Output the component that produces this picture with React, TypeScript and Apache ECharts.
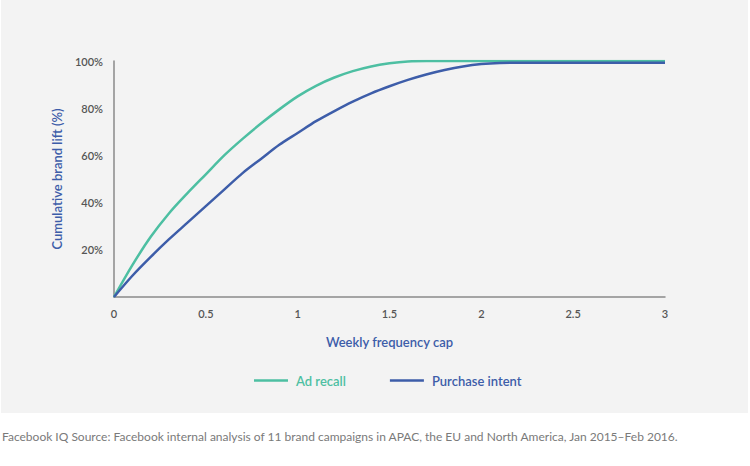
import React, { useEffect, useRef } from "react";
import * as echarts from "echarts";

const xValues = [0, 0.1, 0.2, 0.3, 0.4, 0.5, 0.6, 0.7, 0.8, 0.9, 1, 1.1, 1.2, 1.3, 1.4, 1.5, 1.6, 1.7, 1.8, 1.9, 2, 2.1, 2.2, 2.5, 3];
const adRecall = [0, 13.5, 25.5, 35.5, 44, 52, 60, 67, 73.5, 79.5, 85, 89.5, 93, 95.7, 97.7, 99, 99.8, 100, 100, 100, 100, 100, 100, 100, 100];
const purchaseIntent = [0, 9, 17, 24.5, 31.5, 38.5, 45.5, 52.5, 58.5, 64.5, 69.5, 74.5, 78.8, 82.8, 86.3, 89.3, 92, 94.3, 96.2, 97.7, 98.7, 99.2, 99.3, 99.3, 99.3];
const seriesNames = ["Ad recall", "Purchase intent"];
const xAxisTitle = "Weekly frequency cap";
const yAxisTitle = "Cumulative brand lift (%)";
const sourceText =
  "Facebook IQ Source: Facebook internal analysis of 11 brand campaigns in APAC, the EU and North America, Jan 2015–Feb 2016.";

const GREEN = "#4dbfa2";
const BLUE = "#3d5da9";
const FONT = "Lato, 'Open Sans', sans-serif";

export default function App() {
  const ref = useRef<HTMLDivElement>(null);
  useEffect(() => {
    if (!ref.current) return;
    const chart = echarts.init(ref.current, null, { renderer: "svg" });
    const toPairs = (ys: number[]) => xValues.map((x, i) => [x, ys[i]]);
    chart.setOption({
      animation: false,
      backgroundColor: "transparent",
      textStyle: { fontFamily: FONT },
      grid: { left: 114, right: 85, top: 61, bottom: 169 },
      xAxis: {
        type: "value",
        min: 0,
        max: 3,
        interval: 0.5,
        name: xAxisTitle,
        nameLocation: "middle",
        nameGap: 38,
        nameTextStyle: { color: BLUE, fontSize: 13, fontWeight: 600, fontFamily: FONT },
        axisLine: { show: true, lineStyle: { color: "#8a8a8a", width: 1.5 } },
        axisTick: { show: false },
        splitLine: { show: false },
        axisLabel: { color: "#555", fontSize: 11, fontWeight: 600, margin: 11, fontFamily: FONT },
      },
      yAxis: {
        type: "value",
        min: 0,
        max: 100,
        interval: 20,
        name: yAxisTitle,
        nameLocation: "middle",
        nameGap: 51,
        nameTextStyle: { color: BLUE, fontSize: 13, fontWeight: 600, fontFamily: FONT },
        axisLine: { show: true, lineStyle: { color: "#8a8a8a", width: 1.5 } },
        axisTick: { show: false },
        splitLine: { show: false },
        axisLabel: {
          color: "#555",
          fontSize: 11,
          fontWeight: 600,
          margin: 11,
          fontFamily: FONT,
          formatter: (v: number) => (v === 0 ? "" : v + "%"),
        },
      },
      legend: {
        left: 249,
        top: 369,
        itemWidth: 34,
        itemHeight: 2.5,
        itemGap: 44,
        icon: "rect",
        data: [
          { name: seriesNames[0], textStyle: { color: GREEN } },
          { name: seriesNames[1], textStyle: { color: BLUE } },
        ],
        textStyle: { fontSize: 13, fontWeight: 600, fontFamily: FONT, padding: [0, 0, 0, 3] },
      },
      series: [
        {
          name: seriesNames[0],
          type: "line",
          data: toPairs(adRecall),
          smooth: 0.3,
          showSymbol: false,
          lineStyle: { color: GREEN, width: 2.5 },
          itemStyle: { color: GREEN },
        },
        {
          name: seriesNames[1],
          type: "line",
          data: toPairs(purchaseIntent),
          smooth: 0.3,
          showSymbol: false,
          lineStyle: { color: BLUE, width: 2.5 },
          itemStyle: { color: BLUE },
        },
      ],
      graphic: [
        {
          type: "text",
          left: 2,
          top: 430,
          style: { text: sourceText, fill: "#7a7a7a", fontSize: 12, fontFamily: FONT },
        },
      ],
    });
    return () => chart.dispose();
  }, []);
  return (
    <div style={{ position: "fixed", left: 0, top: 0, width: 750, height: 466, background: "#fff" }}>
      <div style={{ position: "absolute", left: 1, top: 0, width: 747, height: 413, background: "#f3f3f3" }} />
      <div ref={ref} style={{ position: "absolute", left: 0, top: 0, width: 750, height: 466 }} />
    </div>
  );
}
